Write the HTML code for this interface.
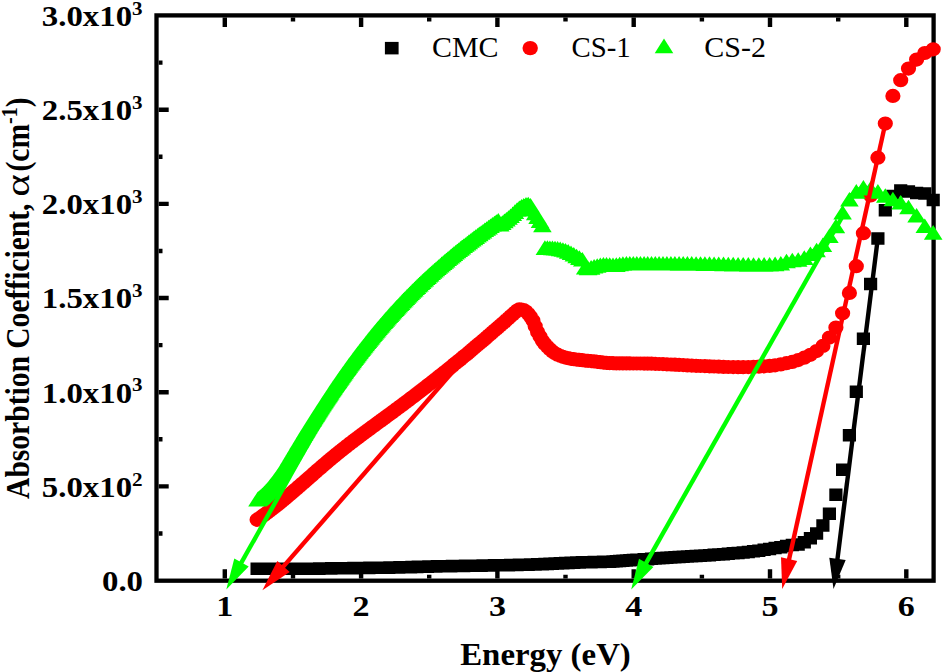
<!DOCTYPE html>
<html><head><meta charset="utf-8"><style>
html,body{margin:0;padding:0;background:#fff;width:943px;height:672px;overflow:hidden}
svg{display:block}
</style></head><body>
<svg width="943" height="672" viewBox="0 0 943 672">
<rect width="943" height="672" fill="#fff"/>
<rect x="156.5" y="15.4" width="777.1" height="565.3" fill="none" stroke="#000" stroke-width="4.3"/>
<path stroke="#000" stroke-width="4.4" fill="none" d="M224.8 578.6v-9.3M224.8 17.6v9.3M293 578.6v-3.8M293 17.6v3.8M361.1 578.6v-9.3M361.1 17.6v9.3M429.2 578.6v-3.8M429.2 17.6v3.8M497.4 578.6v-9.3M497.4 17.6v9.3M565.5 578.6v-3.8M565.5 17.6v3.8M633.7 578.6v-9.3M633.7 17.6v9.3M701.9 578.6v-3.8M701.9 17.6v3.8M770 578.6v-9.3M770 17.6v9.3M838.2 578.6v-3.8M838.2 17.6v3.8M906.3 578.6v-9.3M906.3 17.6v9.3M158.7 533.5h3.8M158.7 486.4h10M158.7 439.3h3.8M158.7 392.2h10M158.7 345.1h3.8M158.7 298h10M158.7 251h3.8M158.7 203.9h10M158.7 156.8h3.8M158.7 109.7h10M158.7 62.6h3.8"/>
<path fill="#000" d="M926.6 193.7h13.2v12.5h-13.2zM918.2 187.2h13.2v12.5h-13.2zM910 186.8h13.2v12.5h-13.2zM901.9 185.2h13.2v12.5h-13.2zM894.1 184.2h13.2v12.5h-13.2zM886.3 189.8h13.2v12.5h-13.2zM878.7 203.9h13.2v12.5h-13.2zM871.3 232.2h13.2v12.5h-13.2zM864 277.8h13.2v12.5h-13.2zM856.8 332.6h13.2v12.5h-13.2zM849.7 385.4h13.2v12.5h-13.2zM842.8 429.1h13.2v12.5h-13.2zM836 463.4h13.2v12.5h-13.2zM829.3 488.6h13.2v12.5h-13.2zM822.8 507.4h13.2v12.5h-13.2zM816.3 519.2h13.2v12.5h-13.2zM810 527.2h13.2v12.5h-13.2zM803.8 532h13.2v12.5h-13.2zM797.7 536h13.2v12.5h-13.2zM791.6 538.2h13.2v12.5h-13.2zM785.7 538.7h13.2v12.5h-13.2zM779.9 539.7h13.2v12.5h-13.2zM774.2 540.9h13.2v12.5h-13.2zM768.5 541.8h13.2v12.5h-13.2zM763 542.7h13.2v12.5h-13.2zM757.5 543.6h13.2v12.5h-13.2zM752.2 544.4h13.2v12.5h-13.2zM746.9 545.1h13.2v12.5h-13.2zM741.7 545.8h13.2v12.5h-13.2zM736.6 546.3h13.2v12.5h-13.2zM731.5 546.7h13.2v12.5h-13.2zM726.6 547.1h13.2v12.5h-13.2zM721.7 547.5h13.2v12.5h-13.2zM716.9 547.9h13.2v12.5h-13.2zM712.1 548.2h13.2v12.5h-13.2zM707.5 548.5h13.2v12.5h-13.2zM702.9 548.9h13.2v12.5h-13.2zM698.3 549.2h13.2v12.5h-13.2zM693.9 549.4h13.2v12.5h-13.2zM689.5 549.7h13.2v12.5h-13.2zM685.1 550h13.2v12.5h-13.2zM680.8 550.2h13.2v12.5h-13.2zM676.6 550.5h13.2v12.5h-13.2zM672.5 550.8h13.2v12.5h-13.2zM668.3 551h13.2v12.5h-13.2zM664.3 551.3h13.2v12.5h-13.2zM660.3 551.6h13.2v12.5h-13.2zM656.4 551.8h13.2v12.5h-13.2zM652.5 552.1h13.2v12.5h-13.2zM648.7 552.3h13.2v12.5h-13.2zM644.9 552.6h13.2v12.5h-13.2zM641.1 552.9h13.2v12.5h-13.2zM637.5 553.1h13.2v12.5h-13.2zM633.8 553.4h13.2v12.5h-13.2zM630.2 553.6h13.2v12.5h-13.2zM626.7 553.8h13.2v12.5h-13.2zM623.2 554.1h13.2v12.5h-13.2zM619.8 554.3h13.2v12.5h-13.2zM616.3 554.6h13.2v12.5h-13.2zM613 554.8h13.2v12.5h-13.2zM609.7 555.1h13.2v12.5h-13.2zM606.4 555.2h13.2v12.5h-13.2zM603.1 555.4h13.2v12.5h-13.2zM599.9 555.5h13.2v12.5h-13.2zM596.8 555.6h13.2v12.5h-13.2zM593.7 555.7h13.2v12.5h-13.2zM590.6 555.8h13.2v12.5h-13.2zM587.5 555.8h13.2v12.5h-13.2zM584.5 555.9h13.2v12.5h-13.2zM581.5 556h13.2v12.5h-13.2zM578.6 556h13.2v12.5h-13.2zM575.7 556.1h13.2v12.5h-13.2zM572.8 556.2h13.2v12.5h-13.2zM570 556.3h13.2v12.5h-13.2zM567.2 556.4h13.2v12.5h-13.2zM564.4 556.6h13.2v12.5h-13.2zM561.6 556.7h13.2v12.5h-13.2zM558.9 556.8h13.2v12.5h-13.2zM556.3 556.9h13.2v12.5h-13.2zM553.6 557.1h13.2v12.5h-13.2zM551 557.2h13.2v12.5h-13.2zM548.4 557.3h13.2v12.5h-13.2zM545.8 557.5h13.2v12.5h-13.2zM543.3 557.6h13.2v12.5h-13.2zM540.8 557.7h13.2v12.5h-13.2zM538.3 557.8h13.2v12.5h-13.2zM535.8 557.9h13.2v12.5h-13.2zM533.4 558h13.2v12.5h-13.2zM531 558.1h13.2v12.5h-13.2zM528.6 558.2h13.2v12.5h-13.2zM526.3 558.3h13.2v12.5h-13.2zM523.9 558.3h13.2v12.5h-13.2zM521.6 558.4h13.2v12.5h-13.2zM519.4 558.5h13.2v12.5h-13.2zM517.1 558.5h13.2v12.5h-13.2zM514.9 558.6h13.2v12.5h-13.2zM512.7 558.6h13.2v12.5h-13.2zM510.5 558.7h13.2v12.5h-13.2zM508.3 558.7h13.2v12.5h-13.2zM506.2 558.8h13.2v12.5h-13.2zM504 558.8h13.2v12.5h-13.2zM501.9 558.9h13.2v12.5h-13.2zM499.8 558.9h13.2v12.5h-13.2zM497.8 558.9h13.2v12.5h-13.2zM495.7 559h13.2v12.5h-13.2zM493.7 559h13.2v12.5h-13.2zM491.7 559.1h13.2v12.5h-13.2zM489.7 559.1h13.2v12.5h-13.2zM487.8 559.1h13.2v12.5h-13.2zM485.8 559.2h13.2v12.5h-13.2zM483.9 559.2h13.2v12.5h-13.2zM482 559.2h13.2v12.5h-13.2zM480.1 559.3h13.2v12.5h-13.2zM478.2 559.3h13.2v12.5h-13.2zM476.4 559.3h13.2v12.5h-13.2zM474.6 559.4h13.2v12.5h-13.2zM472.7 559.4h13.2v12.5h-13.2zM470.9 559.4h13.2v12.5h-13.2zM469.1 559.5h13.2v12.5h-13.2zM467.4 559.5h13.2v12.5h-13.2zM465.6 559.5h13.2v12.5h-13.2zM463.9 559.6h13.2v12.5h-13.2zM462.2 559.6h13.2v12.5h-13.2zM460.5 559.6h13.2v12.5h-13.2zM458.8 559.6h13.2v12.5h-13.2zM457.1 559.7h13.2v12.5h-13.2zM455.4 559.7h13.2v12.5h-13.2zM453.8 559.7h13.2v12.5h-13.2zM452.1 559.7h13.2v12.5h-13.2zM450.5 559.8h13.2v12.5h-13.2zM448.9 559.8h13.2v12.5h-13.2zM447.3 559.8h13.2v12.5h-13.2zM445.8 559.8h13.2v12.5h-13.2zM444.2 559.9h13.2v12.5h-13.2zM442.6 559.9h13.2v12.5h-13.2zM441.1 559.9h13.2v12.5h-13.2zM439.6 559.9h13.2v12.5h-13.2zM438.1 560h13.2v12.5h-13.2zM436.6 560h13.2v12.5h-13.2zM435.1 560h13.2v12.5h-13.2zM433.6 560.1h13.2v12.5h-13.2zM432.1 560.1h13.2v12.5h-13.2zM430.7 560.1h13.2v12.5h-13.2zM429.3 560.2h13.2v12.5h-13.2zM427.8 560.2h13.2v12.5h-13.2zM426.4 560.2h13.2v12.5h-13.2zM425 560.3h13.2v12.5h-13.2zM423.6 560.3h13.2v12.5h-13.2zM422.2 560.3h13.2v12.5h-13.2zM420.9 560.4h13.2v12.5h-13.2zM419.5 560.4h13.2v12.5h-13.2zM418.2 560.5h13.2v12.5h-13.2zM416.8 560.5h13.2v12.5h-13.2zM415.5 560.5h13.2v12.5h-13.2zM414.2 560.6h13.2v12.5h-13.2zM412.9 560.6h13.2v12.5h-13.2zM411.6 560.6h13.2v12.5h-13.2zM410.3 560.7h13.2v12.5h-13.2zM409 560.7h13.2v12.5h-13.2zM407.8 560.8h13.2v12.5h-13.2zM406.5 560.8h13.2v12.5h-13.2zM405.3 560.8h13.2v12.5h-13.2zM404 560.9h13.2v12.5h-13.2zM402.8 560.9h13.2v12.5h-13.2zM401.6 560.9h13.2v12.5h-13.2zM400.4 561h13.2v12.5h-13.2zM399.2 561h13.2v12.5h-13.2zM398 561h13.2v12.5h-13.2zM396.8 561.1h13.2v12.5h-13.2zM395.6 561.1h13.2v12.5h-13.2zM394.5 561.1h13.2v12.5h-13.2zM393.3 561.1h13.2v12.5h-13.2zM392.2 561.2h13.2v12.5h-13.2zM391 561.2h13.2v12.5h-13.2zM389.9 561.2h13.2v12.5h-13.2zM388.8 561.2h13.2v12.5h-13.2zM387.7 561.3h13.2v12.5h-13.2zM386.6 561.3h13.2v12.5h-13.2zM385.5 561.3h13.2v12.5h-13.2zM384.4 561.3h13.2v12.5h-13.2zM383.3 561.3h13.2v12.5h-13.2zM382.2 561.4h13.2v12.5h-13.2zM381.2 561.4h13.2v12.5h-13.2zM380.1 561.4h13.2v12.5h-13.2zM379.1 561.4h13.2v12.5h-13.2zM378 561.4h13.2v12.5h-13.2zM377 561.4h13.2v12.5h-13.2zM375.9 561.5h13.2v12.5h-13.2zM374.9 561.5h13.2v12.5h-13.2zM373.9 561.5h13.2v12.5h-13.2zM372.9 561.5h13.2v12.5h-13.2zM371.9 561.5h13.2v12.5h-13.2zM370.9 561.5h13.2v12.5h-13.2zM369.9 561.5h13.2v12.5h-13.2zM368.9 561.6h13.2v12.5h-13.2zM368 561.6h13.2v12.5h-13.2zM367 561.6h13.2v12.5h-13.2zM366 561.6h13.2v12.5h-13.2zM365.1 561.6h13.2v12.5h-13.2zM364.1 561.6h13.2v12.5h-13.2zM363.2 561.6h13.2v12.5h-13.2zM362.3 561.7h13.2v12.5h-13.2zM361.3 561.7h13.2v12.5h-13.2zM360.4 561.7h13.2v12.5h-13.2zM359.5 561.7h13.2v12.5h-13.2zM358.6 561.7h13.2v12.5h-13.2zM357.7 561.7h13.2v12.5h-13.2zM356.8 561.7h13.2v12.5h-13.2zM355.9 561.7h13.2v12.5h-13.2zM355 561.7h13.2v12.5h-13.2zM354.1 561.8h13.2v12.5h-13.2zM353.2 561.8h13.2v12.5h-13.2zM352.4 561.8h13.2v12.5h-13.2zM351.5 561.8h13.2v12.5h-13.2zM350.6 561.8h13.2v12.5h-13.2zM349.8 561.8h13.2v12.5h-13.2zM348.9 561.8h13.2v12.5h-13.2zM348.1 561.8h13.2v12.5h-13.2zM347.2 561.8h13.2v12.5h-13.2zM346.4 561.9h13.2v12.5h-13.2zM345.6 561.9h13.2v12.5h-13.2zM344.8 561.9h13.2v12.5h-13.2zM343.9 561.9h13.2v12.5h-13.2zM343.1 561.9h13.2v12.5h-13.2zM342.3 561.9h13.2v12.5h-13.2zM341.5 561.9h13.2v12.5h-13.2zM340.7 561.9h13.2v12.5h-13.2zM339.9 561.9h13.2v12.5h-13.2zM339.1 561.9h13.2v12.5h-13.2zM338.4 562h13.2v12.5h-13.2zM337.6 562h13.2v12.5h-13.2zM336.8 562h13.2v12.5h-13.2zM336 562h13.2v12.5h-13.2zM335.3 562h13.2v12.5h-13.2zM334.5 562h13.2v12.5h-13.2zM333.8 562h13.2v12.5h-13.2zM333 562h13.2v12.5h-13.2zM332.3 562h13.2v12.5h-13.2zM331.5 562h13.2v12.5h-13.2zM330.8 562.1h13.2v12.5h-13.2zM330 562.1h13.2v12.5h-13.2zM329.3 562.1h13.2v12.5h-13.2zM328.6 562.1h13.2v12.5h-13.2zM327.9 562.1h13.2v12.5h-13.2zM327.2 562.1h13.2v12.5h-13.2zM326.4 562.1h13.2v12.5h-13.2zM325.7 562.1h13.2v12.5h-13.2zM325 562.1h13.2v12.5h-13.2zM324.3 562.2h13.2v12.5h-13.2zM323.6 562.2h13.2v12.5h-13.2zM322.9 562.2h13.2v12.5h-13.2zM322.3 562.2h13.2v12.5h-13.2zM321.6 562.2h13.2v12.5h-13.2zM320.9 562.2h13.2v12.5h-13.2zM320.2 562.2h13.2v12.5h-13.2zM319.5 562.2h13.2v12.5h-13.2zM318.9 562.3h13.2v12.5h-13.2zM318.2 562.3h13.2v12.5h-13.2zM317.6 562.3h13.2v12.5h-13.2zM316.9 562.3h13.2v12.5h-13.2zM316.2 562.3h13.2v12.5h-13.2zM315.6 562.3h13.2v12.5h-13.2zM314.9 562.3h13.2v12.5h-13.2zM314.3 562.3h13.2v12.5h-13.2zM313.7 562.3h13.2v12.5h-13.2zM313 562.3h13.2v12.5h-13.2zM312.4 562.4h13.2v12.5h-13.2zM311.8 562.4h13.2v12.5h-13.2zM311.1 562.4h13.2v12.5h-13.2zM310.5 562.4h13.2v12.5h-13.2zM309.9 562.4h13.2v12.5h-13.2zM309.3 562.4h13.2v12.5h-13.2zM308.7 562.4h13.2v12.5h-13.2zM308.1 562.4h13.2v12.5h-13.2zM307.5 562.4h13.2v12.5h-13.2zM306.8 562.4h13.2v12.5h-13.2zM306.2 562.5h13.2v12.5h-13.2zM305.7 562.5h13.2v12.5h-13.2zM305.1 562.5h13.2v12.5h-13.2zM304.5 562.5h13.2v12.5h-13.2zM303.9 562.5h13.2v12.5h-13.2zM303.3 562.5h13.2v12.5h-13.2zM302.7 562.5h13.2v12.5h-13.2zM302.1 562.5h13.2v12.5h-13.2zM301.6 562.5h13.2v12.5h-13.2zM301 562.5h13.2v12.5h-13.2zM300.4 562.5h13.2v12.5h-13.2zM299.9 562.5h13.2v12.5h-13.2zM299.3 562.6h13.2v12.5h-13.2zM298.7 562.6h13.2v12.5h-13.2zM298.2 562.6h13.2v12.5h-13.2zM297.6 562.6h13.2v12.5h-13.2zM297.1 562.6h13.2v12.5h-13.2zM296.5 562.6h13.2v12.5h-13.2zM296 562.6h13.2v12.5h-13.2zM295.4 562.6h13.2v12.5h-13.2zM294.9 562.6h13.2v12.5h-13.2zM294.4 562.6h13.2v12.5h-13.2zM293.8 562.6h13.2v12.5h-13.2zM293.3 562.6h13.2v12.5h-13.2zM292.8 562.6h13.2v12.5h-13.2zM292.2 562.6h13.2v12.5h-13.2zM291.7 562.6h13.2v12.5h-13.2zM291.2 562.6h13.2v12.5h-13.2zM290.7 562.6h13.2v12.5h-13.2zM290.2 562.6h13.2v12.5h-13.2zM289.6 562.6h13.2v12.5h-13.2zM289.1 562.6h13.2v12.5h-13.2zM288.6 562.6h13.2v12.5h-13.2zM288.1 562.6h13.2v12.5h-13.2zM287.6 562.6h13.2v12.5h-13.2zM287.1 562.6h13.2v12.5h-13.2zM286.6 562.6h13.2v12.5h-13.2zM286.1 562.6h13.2v12.5h-13.2zM285.6 562.6h13.2v12.5h-13.2zM285.1 562.6h13.2v12.5h-13.2zM284.6 562.6h13.2v12.5h-13.2zM284.2 562.6h13.2v12.5h-13.2zM283.7 562.6h13.2v12.5h-13.2zM283.2 562.6h13.2v12.5h-13.2zM282.7 562.6h13.2v12.5h-13.2zM282.2 562.6h13.2v12.5h-13.2zM281.8 562.6h13.2v12.5h-13.2zM281.3 562.6h13.2v12.5h-13.2zM280.8 562.6h13.2v12.5h-13.2zM280.3 562.6h13.2v12.5h-13.2zM279.9 562.6h13.2v12.5h-13.2zM279.4 562.6h13.2v12.5h-13.2zM278.9 562.6h13.2v12.5h-13.2zM278.5 562.6h13.2v12.5h-13.2zM278 562.6h13.2v12.5h-13.2zM277.6 562.6h13.2v12.5h-13.2zM277.1 562.6h13.2v12.5h-13.2zM276.7 562.6h13.2v12.5h-13.2zM276.2 562.6h13.2v12.5h-13.2zM275.8 562.6h13.2v12.5h-13.2zM275.3 562.6h13.2v12.5h-13.2zM274.9 562.6h13.2v12.5h-13.2zM274.4 562.6h13.2v12.5h-13.2zM274 562.6h13.2v12.5h-13.2zM273.6 562.6h13.2v12.5h-13.2zM273.1 562.6h13.2v12.5h-13.2zM272.7 562.6h13.2v12.5h-13.2zM272.3 562.6h13.2v12.5h-13.2zM271.8 562.6h13.2v12.5h-13.2zM271.4 562.6h13.2v12.5h-13.2zM271 562.6h13.2v12.5h-13.2zM270.6 562.6h13.2v12.5h-13.2zM270.1 562.6h13.2v12.5h-13.2zM269.7 562.6h13.2v12.5h-13.2zM269.3 562.6h13.2v12.5h-13.2zM268.9 562.6h13.2v12.5h-13.2zM268.5 562.6h13.2v12.5h-13.2zM268 562.6h13.2v12.5h-13.2zM267.6 562.6h13.2v12.5h-13.2zM267.2 562.6h13.2v12.5h-13.2zM266.8 562.6h13.2v12.5h-13.2zM266.4 562.6h13.2v12.5h-13.2zM266 562.6h13.2v12.5h-13.2zM265.6 562.6h13.2v12.5h-13.2zM265.2 562.6h13.2v12.5h-13.2zM264.8 562.6h13.2v12.5h-13.2zM264.4 562.6h13.2v12.5h-13.2zM264 562.6h13.2v12.5h-13.2zM263.6 562.6h13.2v12.5h-13.2zM263.2 562.6h13.2v12.5h-13.2zM262.8 562.6h13.2v12.5h-13.2zM262.5 562.6h13.2v12.5h-13.2zM262.1 562.6h13.2v12.5h-13.2zM261.7 562.6h13.2v12.5h-13.2zM261.3 562.6h13.2v12.5h-13.2zM260.9 562.6h13.2v12.5h-13.2zM260.5 562.6h13.2v12.5h-13.2zM260.2 562.6h13.2v12.5h-13.2zM259.8 562.6h13.2v12.5h-13.2zM259.4 562.6h13.2v12.5h-13.2zM259 562.6h13.2v12.5h-13.2zM258.7 562.6h13.2v12.5h-13.2zM258.3 562.6h13.2v12.5h-13.2zM257.9 562.6h13.2v12.5h-13.2zM257.6 562.6h13.2v12.5h-13.2zM257.2 562.6h13.2v12.5h-13.2zM256.8 562.6h13.2v12.5h-13.2zM256.5 562.6h13.2v12.5h-13.2zM256.1 562.5h13.2v12.5h-13.2zM255.7 562.5h13.2v12.5h-13.2zM255.4 562.5h13.2v12.5h-13.2zM255 562.5h13.2v12.5h-13.2zM254.7 562.5h13.2v12.5h-13.2zM254.3 562.5h13.2v12.5h-13.2zM254 562.5h13.2v12.5h-13.2zM253.6 562.5h13.2v12.5h-13.2zM253.3 562.5h13.2v12.5h-13.2zM252.9 562.5h13.2v12.5h-13.2zM252.6 562.5h13.2v12.5h-13.2zM252.2 562.5h13.2v12.5h-13.2zM251.9 562.5h13.2v12.5h-13.2zM251.5 562.5h13.2v12.5h-13.2zM251.2 562.5h13.2v12.5h-13.2zM250.9 562.5h13.2v12.5h-13.2zM250.5 562.5h13.2v12.5h-13.2z"/>
<path fill="#f00" d="M509.5 310.5a7.6 7.1 0 1 0 15.2 0a7.6 7.1 0 1 0 -15.2 0zM507.3 312.5a7.6 7.1 0 1 0 15.2 0a7.6 7.1 0 1 0 -15.2 0zM505.2 314.4a7.6 7.1 0 1 0 15.2 0a7.6 7.1 0 1 0 -15.2 0zM503 316.3a7.6 7.1 0 1 0 15.2 0a7.6 7.1 0 1 0 -15.2 0zM500.9 318.2a7.6 7.1 0 1 0 15.2 0a7.6 7.1 0 1 0 -15.2 0zM498.8 320a7.6 7.1 0 1 0 15.2 0a7.6 7.1 0 1 0 -15.2 0zM496.8 321.9a7.6 7.1 0 1 0 15.2 0a7.6 7.1 0 1 0 -15.2 0zM494.7 323.7a7.6 7.1 0 1 0 15.2 0a7.6 7.1 0 1 0 -15.2 0zM492.7 325.4a7.6 7.1 0 1 0 15.2 0a7.6 7.1 0 1 0 -15.2 0zM490.7 327.2a7.6 7.1 0 1 0 15.2 0a7.6 7.1 0 1 0 -15.2 0zM488.7 328.9a7.6 7.1 0 1 0 15.2 0a7.6 7.1 0 1 0 -15.2 0zM486.8 330.6a7.6 7.1 0 1 0 15.2 0a7.6 7.1 0 1 0 -15.2 0zM484.8 332.3a7.6 7.1 0 1 0 15.2 0a7.6 7.1 0 1 0 -15.2 0zM482.9 334a7.6 7.1 0 1 0 15.2 0a7.6 7.1 0 1 0 -15.2 0zM481 335.6a7.6 7.1 0 1 0 15.2 0a7.6 7.1 0 1 0 -15.2 0zM479.1 337.3a7.6 7.1 0 1 0 15.2 0a7.6 7.1 0 1 0 -15.2 0zM477.2 338.9a7.6 7.1 0 1 0 15.2 0a7.6 7.1 0 1 0 -15.2 0zM475.4 340.4a7.6 7.1 0 1 0 15.2 0a7.6 7.1 0 1 0 -15.2 0zM473.6 342a7.6 7.1 0 1 0 15.2 0a7.6 7.1 0 1 0 -15.2 0zM471.7 343.6a7.6 7.1 0 1 0 15.2 0a7.6 7.1 0 1 0 -15.2 0zM469.9 345.1a7.6 7.1 0 1 0 15.2 0a7.6 7.1 0 1 0 -15.2 0zM468.1 346.6a7.6 7.1 0 1 0 15.2 0a7.6 7.1 0 1 0 -15.2 0zM466.4 348.1a7.6 7.1 0 1 0 15.2 0a7.6 7.1 0 1 0 -15.2 0zM464.6 349.5a7.6 7.1 0 1 0 15.2 0a7.6 7.1 0 1 0 -15.2 0zM462.9 351a7.6 7.1 0 1 0 15.2 0a7.6 7.1 0 1 0 -15.2 0zM461.2 352.4a7.6 7.1 0 1 0 15.2 0a7.6 7.1 0 1 0 -15.2 0zM459.5 353.9a7.6 7.1 0 1 0 15.2 0a7.6 7.1 0 1 0 -15.2 0zM457.8 355.3a7.6 7.1 0 1 0 15.2 0a7.6 7.1 0 1 0 -15.2 0zM456.1 356.6a7.6 7.1 0 1 0 15.2 0a7.6 7.1 0 1 0 -15.2 0zM454.4 358a7.6 7.1 0 1 0 15.2 0a7.6 7.1 0 1 0 -15.2 0zM452.8 359.4a7.6 7.1 0 1 0 15.2 0a7.6 7.1 0 1 0 -15.2 0zM451.1 360.7a7.6 7.1 0 1 0 15.2 0a7.6 7.1 0 1 0 -15.2 0zM449.5 362a7.6 7.1 0 1 0 15.2 0a7.6 7.1 0 1 0 -15.2 0zM447.9 363.3a7.6 7.1 0 1 0 15.2 0a7.6 7.1 0 1 0 -15.2 0zM446.3 364.6a7.6 7.1 0 1 0 15.2 0a7.6 7.1 0 1 0 -15.2 0zM444.8 365.9a7.6 7.1 0 1 0 15.2 0a7.6 7.1 0 1 0 -15.2 0zM443.2 367.2a7.6 7.1 0 1 0 15.2 0a7.6 7.1 0 1 0 -15.2 0zM441.6 368.4a7.6 7.1 0 1 0 15.2 0a7.6 7.1 0 1 0 -15.2 0zM440.1 369.7a7.6 7.1 0 1 0 15.2 0a7.6 7.1 0 1 0 -15.2 0zM438.6 370.9a7.6 7.1 0 1 0 15.2 0a7.6 7.1 0 1 0 -15.2 0zM437.1 372.1a7.6 7.1 0 1 0 15.2 0a7.6 7.1 0 1 0 -15.2 0zM435.6 373.3a7.6 7.1 0 1 0 15.2 0a7.6 7.1 0 1 0 -15.2 0zM434.1 374.5a7.6 7.1 0 1 0 15.2 0a7.6 7.1 0 1 0 -15.2 0zM432.6 375.6a7.6 7.1 0 1 0 15.2 0a7.6 7.1 0 1 0 -15.2 0zM431.1 376.8a7.6 7.1 0 1 0 15.2 0a7.6 7.1 0 1 0 -15.2 0zM429.7 377.9a7.6 7.1 0 1 0 15.2 0a7.6 7.1 0 1 0 -15.2 0zM428.3 379.1a7.6 7.1 0 1 0 15.2 0a7.6 7.1 0 1 0 -15.2 0zM426.8 380.2a7.6 7.1 0 1 0 15.2 0a7.6 7.1 0 1 0 -15.2 0zM425.4 381.3a7.6 7.1 0 1 0 15.2 0a7.6 7.1 0 1 0 -15.2 0zM424 382.4a7.6 7.1 0 1 0 15.2 0a7.6 7.1 0 1 0 -15.2 0zM422.6 383.5a7.6 7.1 0 1 0 15.2 0a7.6 7.1 0 1 0 -15.2 0zM421.2 384.6a7.6 7.1 0 1 0 15.2 0a7.6 7.1 0 1 0 -15.2 0zM419.9 385.6a7.6 7.1 0 1 0 15.2 0a7.6 7.1 0 1 0 -15.2 0zM418.5 386.7a7.6 7.1 0 1 0 15.2 0a7.6 7.1 0 1 0 -15.2 0zM417.2 387.7a7.6 7.1 0 1 0 15.2 0a7.6 7.1 0 1 0 -15.2 0zM415.8 388.8a7.6 7.1 0 1 0 15.2 0a7.6 7.1 0 1 0 -15.2 0zM414.5 389.8a7.6 7.1 0 1 0 15.2 0a7.6 7.1 0 1 0 -15.2 0zM413.2 390.8a7.6 7.1 0 1 0 15.2 0a7.6 7.1 0 1 0 -15.2 0zM411.9 391.8a7.6 7.1 0 1 0 15.2 0a7.6 7.1 0 1 0 -15.2 0zM410.6 392.8a7.6 7.1 0 1 0 15.2 0a7.6 7.1 0 1 0 -15.2 0zM409.3 393.8a7.6 7.1 0 1 0 15.2 0a7.6 7.1 0 1 0 -15.2 0zM408 394.8a7.6 7.1 0 1 0 15.2 0a7.6 7.1 0 1 0 -15.2 0zM406.8 395.7a7.6 7.1 0 1 0 15.2 0a7.6 7.1 0 1 0 -15.2 0zM405.5 396.7a7.6 7.1 0 1 0 15.2 0a7.6 7.1 0 1 0 -15.2 0zM404.3 397.6a7.6 7.1 0 1 0 15.2 0a7.6 7.1 0 1 0 -15.2 0zM403 398.6a7.6 7.1 0 1 0 15.2 0a7.6 7.1 0 1 0 -15.2 0zM401.8 399.5a7.6 7.1 0 1 0 15.2 0a7.6 7.1 0 1 0 -15.2 0zM400.6 400.4a7.6 7.1 0 1 0 15.2 0a7.6 7.1 0 1 0 -15.2 0zM399.4 401.3a7.6 7.1 0 1 0 15.2 0a7.6 7.1 0 1 0 -15.2 0zM398.2 402.2a7.6 7.1 0 1 0 15.2 0a7.6 7.1 0 1 0 -15.2 0zM397 403.1a7.6 7.1 0 1 0 15.2 0a7.6 7.1 0 1 0 -15.2 0zM395.8 404a7.6 7.1 0 1 0 15.2 0a7.6 7.1 0 1 0 -15.2 0zM394.6 404.9a7.6 7.1 0 1 0 15.2 0a7.6 7.1 0 1 0 -15.2 0zM393.5 405.7a7.6 7.1 0 1 0 15.2 0a7.6 7.1 0 1 0 -15.2 0zM392.3 406.6a7.6 7.1 0 1 0 15.2 0a7.6 7.1 0 1 0 -15.2 0zM391.2 407.4a7.6 7.1 0 1 0 15.2 0a7.6 7.1 0 1 0 -15.2 0zM390 408.3a7.6 7.1 0 1 0 15.2 0a7.6 7.1 0 1 0 -15.2 0zM388.9 409.1a7.6 7.1 0 1 0 15.2 0a7.6 7.1 0 1 0 -15.2 0zM387.8 410a7.6 7.1 0 1 0 15.2 0a7.6 7.1 0 1 0 -15.2 0zM386.7 410.8a7.6 7.1 0 1 0 15.2 0a7.6 7.1 0 1 0 -15.2 0zM385.6 411.6a7.6 7.1 0 1 0 15.2 0a7.6 7.1 0 1 0 -15.2 0zM384.5 412.4a7.6 7.1 0 1 0 15.2 0a7.6 7.1 0 1 0 -15.2 0zM383.4 413.2a7.6 7.1 0 1 0 15.2 0a7.6 7.1 0 1 0 -15.2 0zM382.3 414a7.6 7.1 0 1 0 15.2 0a7.6 7.1 0 1 0 -15.2 0zM381.2 414.8a7.6 7.1 0 1 0 15.2 0a7.6 7.1 0 1 0 -15.2 0zM380.2 415.6a7.6 7.1 0 1 0 15.2 0a7.6 7.1 0 1 0 -15.2 0zM379.1 416.3a7.6 7.1 0 1 0 15.2 0a7.6 7.1 0 1 0 -15.2 0zM378.1 417.1a7.6 7.1 0 1 0 15.2 0a7.6 7.1 0 1 0 -15.2 0zM377 417.9a7.6 7.1 0 1 0 15.2 0a7.6 7.1 0 1 0 -15.2 0zM376 418.6a7.6 7.1 0 1 0 15.2 0a7.6 7.1 0 1 0 -15.2 0zM374.9 419.4a7.6 7.1 0 1 0 15.2 0a7.6 7.1 0 1 0 -15.2 0zM373.9 420.1a7.6 7.1 0 1 0 15.2 0a7.6 7.1 0 1 0 -15.2 0zM372.9 420.9a7.6 7.1 0 1 0 15.2 0a7.6 7.1 0 1 0 -15.2 0zM371.9 421.6a7.6 7.1 0 1 0 15.2 0a7.6 7.1 0 1 0 -15.2 0zM370.9 422.3a7.6 7.1 0 1 0 15.2 0a7.6 7.1 0 1 0 -15.2 0zM369.9 423.1a7.6 7.1 0 1 0 15.2 0a7.6 7.1 0 1 0 -15.2 0zM368.9 423.8a7.6 7.1 0 1 0 15.2 0a7.6 7.1 0 1 0 -15.2 0zM367.9 424.5a7.6 7.1 0 1 0 15.2 0a7.6 7.1 0 1 0 -15.2 0zM367 425.2a7.6 7.1 0 1 0 15.2 0a7.6 7.1 0 1 0 -15.2 0zM366 425.9a7.6 7.1 0 1 0 15.2 0a7.6 7.1 0 1 0 -15.2 0zM365 426.6a7.6 7.1 0 1 0 15.2 0a7.6 7.1 0 1 0 -15.2 0zM364.1 427.3a7.6 7.1 0 1 0 15.2 0a7.6 7.1 0 1 0 -15.2 0zM363.1 428a7.6 7.1 0 1 0 15.2 0a7.6 7.1 0 1 0 -15.2 0zM362.2 428.7a7.6 7.1 0 1 0 15.2 0a7.6 7.1 0 1 0 -15.2 0zM361.3 429.4a7.6 7.1 0 1 0 15.2 0a7.6 7.1 0 1 0 -15.2 0zM360.3 430.1a7.6 7.1 0 1 0 15.2 0a7.6 7.1 0 1 0 -15.2 0zM359.4 430.8a7.6 7.1 0 1 0 15.2 0a7.6 7.1 0 1 0 -15.2 0zM358.5 431.4a7.6 7.1 0 1 0 15.2 0a7.6 7.1 0 1 0 -15.2 0zM357.6 432.1a7.6 7.1 0 1 0 15.2 0a7.6 7.1 0 1 0 -15.2 0zM356.7 432.8a7.6 7.1 0 1 0 15.2 0a7.6 7.1 0 1 0 -15.2 0zM355.8 433.4a7.6 7.1 0 1 0 15.2 0a7.6 7.1 0 1 0 -15.2 0zM354.9 434.1a7.6 7.1 0 1 0 15.2 0a7.6 7.1 0 1 0 -15.2 0zM354 434.8a7.6 7.1 0 1 0 15.2 0a7.6 7.1 0 1 0 -15.2 0zM353.1 435.4a7.6 7.1 0 1 0 15.2 0a7.6 7.1 0 1 0 -15.2 0zM352.2 436.1a7.6 7.1 0 1 0 15.2 0a7.6 7.1 0 1 0 -15.2 0zM351.4 436.7a7.6 7.1 0 1 0 15.2 0a7.6 7.1 0 1 0 -15.2 0zM350.5 437.4a7.6 7.1 0 1 0 15.2 0a7.6 7.1 0 1 0 -15.2 0zM349.6 438a7.6 7.1 0 1 0 15.2 0a7.6 7.1 0 1 0 -15.2 0zM348.8 438.7a7.6 7.1 0 1 0 15.2 0a7.6 7.1 0 1 0 -15.2 0zM347.9 439.3a7.6 7.1 0 1 0 15.2 0a7.6 7.1 0 1 0 -15.2 0zM347.1 440a7.6 7.1 0 1 0 15.2 0a7.6 7.1 0 1 0 -15.2 0zM346.2 440.6a7.6 7.1 0 1 0 15.2 0a7.6 7.1 0 1 0 -15.2 0zM345.4 441.2a7.6 7.1 0 1 0 15.2 0a7.6 7.1 0 1 0 -15.2 0zM344.6 441.9a7.6 7.1 0 1 0 15.2 0a7.6 7.1 0 1 0 -15.2 0zM343.8 442.5a7.6 7.1 0 1 0 15.2 0a7.6 7.1 0 1 0 -15.2 0zM342.9 443.1a7.6 7.1 0 1 0 15.2 0a7.6 7.1 0 1 0 -15.2 0zM342.1 443.8a7.6 7.1 0 1 0 15.2 0a7.6 7.1 0 1 0 -15.2 0zM341.3 444.4a7.6 7.1 0 1 0 15.2 0a7.6 7.1 0 1 0 -15.2 0zM340.5 445a7.6 7.1 0 1 0 15.2 0a7.6 7.1 0 1 0 -15.2 0zM339.7 445.6a7.6 7.1 0 1 0 15.2 0a7.6 7.1 0 1 0 -15.2 0zM338.9 446.2a7.6 7.1 0 1 0 15.2 0a7.6 7.1 0 1 0 -15.2 0zM338.1 446.9a7.6 7.1 0 1 0 15.2 0a7.6 7.1 0 1 0 -15.2 0zM337.4 447.5a7.6 7.1 0 1 0 15.2 0a7.6 7.1 0 1 0 -15.2 0zM336.6 448.1a7.6 7.1 0 1 0 15.2 0a7.6 7.1 0 1 0 -15.2 0zM335.8 448.7a7.6 7.1 0 1 0 15.2 0a7.6 7.1 0 1 0 -15.2 0zM335 449.3a7.6 7.1 0 1 0 15.2 0a7.6 7.1 0 1 0 -15.2 0zM334.3 449.9a7.6 7.1 0 1 0 15.2 0a7.6 7.1 0 1 0 -15.2 0zM333.5 450.5a7.6 7.1 0 1 0 15.2 0a7.6 7.1 0 1 0 -15.2 0zM332.8 451.1a7.6 7.1 0 1 0 15.2 0a7.6 7.1 0 1 0 -15.2 0zM332 451.7a7.6 7.1 0 1 0 15.2 0a7.6 7.1 0 1 0 -15.2 0zM331.3 452.3a7.6 7.1 0 1 0 15.2 0a7.6 7.1 0 1 0 -15.2 0zM330.5 452.9a7.6 7.1 0 1 0 15.2 0a7.6 7.1 0 1 0 -15.2 0zM329.8 453.5a7.6 7.1 0 1 0 15.2 0a7.6 7.1 0 1 0 -15.2 0zM329 454.1a7.6 7.1 0 1 0 15.2 0a7.6 7.1 0 1 0 -15.2 0zM328.3 454.7a7.6 7.1 0 1 0 15.2 0a7.6 7.1 0 1 0 -15.2 0zM327.6 455.3a7.6 7.1 0 1 0 15.2 0a7.6 7.1 0 1 0 -15.2 0zM326.9 455.9a7.6 7.1 0 1 0 15.2 0a7.6 7.1 0 1 0 -15.2 0zM326.2 456.5a7.6 7.1 0 1 0 15.2 0a7.6 7.1 0 1 0 -15.2 0zM325.4 457.1a7.6 7.1 0 1 0 15.2 0a7.6 7.1 0 1 0 -15.2 0zM324.7 457.7a7.6 7.1 0 1 0 15.2 0a7.6 7.1 0 1 0 -15.2 0zM324 458.2a7.6 7.1 0 1 0 15.2 0a7.6 7.1 0 1 0 -15.2 0zM323.3 458.8a7.6 7.1 0 1 0 15.2 0a7.6 7.1 0 1 0 -15.2 0zM322.6 459.4a7.6 7.1 0 1 0 15.2 0a7.6 7.1 0 1 0 -15.2 0zM321.9 460a7.6 7.1 0 1 0 15.2 0a7.6 7.1 0 1 0 -15.2 0zM321.3 460.6a7.6 7.1 0 1 0 15.2 0a7.6 7.1 0 1 0 -15.2 0zM320.6 461.1a7.6 7.1 0 1 0 15.2 0a7.6 7.1 0 1 0 -15.2 0zM319.9 461.7a7.6 7.1 0 1 0 15.2 0a7.6 7.1 0 1 0 -15.2 0zM319.2 462.3a7.6 7.1 0 1 0 15.2 0a7.6 7.1 0 1 0 -15.2 0zM318.5 462.9a7.6 7.1 0 1 0 15.2 0a7.6 7.1 0 1 0 -15.2 0zM317.9 463.4a7.6 7.1 0 1 0 15.2 0a7.6 7.1 0 1 0 -15.2 0zM317.2 464a7.6 7.1 0 1 0 15.2 0a7.6 7.1 0 1 0 -15.2 0zM316.6 464.6a7.6 7.1 0 1 0 15.2 0a7.6 7.1 0 1 0 -15.2 0zM315.9 465.1a7.6 7.1 0 1 0 15.2 0a7.6 7.1 0 1 0 -15.2 0zM315.2 465.7a7.6 7.1 0 1 0 15.2 0a7.6 7.1 0 1 0 -15.2 0zM314.6 466.3a7.6 7.1 0 1 0 15.2 0a7.6 7.1 0 1 0 -15.2 0zM313.9 466.8a7.6 7.1 0 1 0 15.2 0a7.6 7.1 0 1 0 -15.2 0zM313.3 467.4a7.6 7.1 0 1 0 15.2 0a7.6 7.1 0 1 0 -15.2 0zM312.7 467.9a7.6 7.1 0 1 0 15.2 0a7.6 7.1 0 1 0 -15.2 0zM312 468.5a7.6 7.1 0 1 0 15.2 0a7.6 7.1 0 1 0 -15.2 0zM311.4 469a7.6 7.1 0 1 0 15.2 0a7.6 7.1 0 1 0 -15.2 0zM310.8 469.6a7.6 7.1 0 1 0 15.2 0a7.6 7.1 0 1 0 -15.2 0zM310.1 470.1a7.6 7.1 0 1 0 15.2 0a7.6 7.1 0 1 0 -15.2 0zM309.5 470.6a7.6 7.1 0 1 0 15.2 0a7.6 7.1 0 1 0 -15.2 0zM308.9 471.2a7.6 7.1 0 1 0 15.2 0a7.6 7.1 0 1 0 -15.2 0zM308.3 471.7a7.6 7.1 0 1 0 15.2 0a7.6 7.1 0 1 0 -15.2 0zM307.7 472.3a7.6 7.1 0 1 0 15.2 0a7.6 7.1 0 1 0 -15.2 0zM307.1 472.8a7.6 7.1 0 1 0 15.2 0a7.6 7.1 0 1 0 -15.2 0zM306.5 473.3a7.6 7.1 0 1 0 15.2 0a7.6 7.1 0 1 0 -15.2 0zM305.8 473.8a7.6 7.1 0 1 0 15.2 0a7.6 7.1 0 1 0 -15.2 0zM305.2 474.4a7.6 7.1 0 1 0 15.2 0a7.6 7.1 0 1 0 -15.2 0zM304.7 474.9a7.6 7.1 0 1 0 15.2 0a7.6 7.1 0 1 0 -15.2 0zM304.1 475.4a7.6 7.1 0 1 0 15.2 0a7.6 7.1 0 1 0 -15.2 0zM303.5 475.9a7.6 7.1 0 1 0 15.2 0a7.6 7.1 0 1 0 -15.2 0zM302.9 476.4a7.6 7.1 0 1 0 15.2 0a7.6 7.1 0 1 0 -15.2 0zM302.3 476.9a7.6 7.1 0 1 0 15.2 0a7.6 7.1 0 1 0 -15.2 0zM301.7 477.5a7.6 7.1 0 1 0 15.2 0a7.6 7.1 0 1 0 -15.2 0zM301.1 478a7.6 7.1 0 1 0 15.2 0a7.6 7.1 0 1 0 -15.2 0zM300.6 478.5a7.6 7.1 0 1 0 15.2 0a7.6 7.1 0 1 0 -15.2 0zM300 479a7.6 7.1 0 1 0 15.2 0a7.6 7.1 0 1 0 -15.2 0zM299.4 479.5a7.6 7.1 0 1 0 15.2 0a7.6 7.1 0 1 0 -15.2 0zM298.9 480a7.6 7.1 0 1 0 15.2 0a7.6 7.1 0 1 0 -15.2 0zM298.3 480.4a7.6 7.1 0 1 0 15.2 0a7.6 7.1 0 1 0 -15.2 0zM297.7 480.9a7.6 7.1 0 1 0 15.2 0a7.6 7.1 0 1 0 -15.2 0zM297.2 481.4a7.6 7.1 0 1 0 15.2 0a7.6 7.1 0 1 0 -15.2 0zM296.6 481.9a7.6 7.1 0 1 0 15.2 0a7.6 7.1 0 1 0 -15.2 0zM296.1 482.4a7.6 7.1 0 1 0 15.2 0a7.6 7.1 0 1 0 -15.2 0zM295.5 482.9a7.6 7.1 0 1 0 15.2 0a7.6 7.1 0 1 0 -15.2 0zM295 483.3a7.6 7.1 0 1 0 15.2 0a7.6 7.1 0 1 0 -15.2 0zM294.4 483.8a7.6 7.1 0 1 0 15.2 0a7.6 7.1 0 1 0 -15.2 0zM293.9 484.3a7.6 7.1 0 1 0 15.2 0a7.6 7.1 0 1 0 -15.2 0zM293.4 484.8a7.6 7.1 0 1 0 15.2 0a7.6 7.1 0 1 0 -15.2 0zM292.8 485.2a7.6 7.1 0 1 0 15.2 0a7.6 7.1 0 1 0 -15.2 0zM292.3 485.7a7.6 7.1 0 1 0 15.2 0a7.6 7.1 0 1 0 -15.2 0zM291.8 486.2a7.6 7.1 0 1 0 15.2 0a7.6 7.1 0 1 0 -15.2 0zM291.2 486.6a7.6 7.1 0 1 0 15.2 0a7.6 7.1 0 1 0 -15.2 0zM290.7 487.1a7.6 7.1 0 1 0 15.2 0a7.6 7.1 0 1 0 -15.2 0zM290.2 487.5a7.6 7.1 0 1 0 15.2 0a7.6 7.1 0 1 0 -15.2 0zM289.7 488a7.6 7.1 0 1 0 15.2 0a7.6 7.1 0 1 0 -15.2 0zM289.2 488.4a7.6 7.1 0 1 0 15.2 0a7.6 7.1 0 1 0 -15.2 0zM288.6 488.9a7.6 7.1 0 1 0 15.2 0a7.6 7.1 0 1 0 -15.2 0zM288.1 489.3a7.6 7.1 0 1 0 15.2 0a7.6 7.1 0 1 0 -15.2 0zM287.6 489.7a7.6 7.1 0 1 0 15.2 0a7.6 7.1 0 1 0 -15.2 0zM287.1 490.2a7.6 7.1 0 1 0 15.2 0a7.6 7.1 0 1 0 -15.2 0zM286.6 490.6a7.6 7.1 0 1 0 15.2 0a7.6 7.1 0 1 0 -15.2 0zM286.1 491a7.6 7.1 0 1 0 15.2 0a7.6 7.1 0 1 0 -15.2 0zM285.6 491.5a7.6 7.1 0 1 0 15.2 0a7.6 7.1 0 1 0 -15.2 0zM285.1 491.9a7.6 7.1 0 1 0 15.2 0a7.6 7.1 0 1 0 -15.2 0zM284.6 492.3a7.6 7.1 0 1 0 15.2 0a7.6 7.1 0 1 0 -15.2 0zM284.1 492.7a7.6 7.1 0 1 0 15.2 0a7.6 7.1 0 1 0 -15.2 0zM283.6 493.2a7.6 7.1 0 1 0 15.2 0a7.6 7.1 0 1 0 -15.2 0zM283.2 493.6a7.6 7.1 0 1 0 15.2 0a7.6 7.1 0 1 0 -15.2 0zM282.7 494a7.6 7.1 0 1 0 15.2 0a7.6 7.1 0 1 0 -15.2 0zM282.2 494.4a7.6 7.1 0 1 0 15.2 0a7.6 7.1 0 1 0 -15.2 0zM281.7 494.8a7.6 7.1 0 1 0 15.2 0a7.6 7.1 0 1 0 -15.2 0zM281.2 495.2a7.6 7.1 0 1 0 15.2 0a7.6 7.1 0 1 0 -15.2 0zM280.8 495.6a7.6 7.1 0 1 0 15.2 0a7.6 7.1 0 1 0 -15.2 0zM280.3 496a7.6 7.1 0 1 0 15.2 0a7.6 7.1 0 1 0 -15.2 0zM279.8 496.4a7.6 7.1 0 1 0 15.2 0a7.6 7.1 0 1 0 -15.2 0zM279.3 496.8a7.6 7.1 0 1 0 15.2 0a7.6 7.1 0 1 0 -15.2 0zM278.9 497.2a7.6 7.1 0 1 0 15.2 0a7.6 7.1 0 1 0 -15.2 0zM278.4 497.6a7.6 7.1 0 1 0 15.2 0a7.6 7.1 0 1 0 -15.2 0zM277.9 498a7.6 7.1 0 1 0 15.2 0a7.6 7.1 0 1 0 -15.2 0zM277.5 498.4a7.6 7.1 0 1 0 15.2 0a7.6 7.1 0 1 0 -15.2 0zM277 498.8a7.6 7.1 0 1 0 15.2 0a7.6 7.1 0 1 0 -15.2 0zM276.6 499.1a7.6 7.1 0 1 0 15.2 0a7.6 7.1 0 1 0 -15.2 0zM276.1 499.5a7.6 7.1 0 1 0 15.2 0a7.6 7.1 0 1 0 -15.2 0zM275.7 499.9a7.6 7.1 0 1 0 15.2 0a7.6 7.1 0 1 0 -15.2 0zM275.2 500.3a7.6 7.1 0 1 0 15.2 0a7.6 7.1 0 1 0 -15.2 0zM274.8 500.6a7.6 7.1 0 1 0 15.2 0a7.6 7.1 0 1 0 -15.2 0zM274.3 501a7.6 7.1 0 1 0 15.2 0a7.6 7.1 0 1 0 -15.2 0zM273.9 501.4a7.6 7.1 0 1 0 15.2 0a7.6 7.1 0 1 0 -15.2 0zM273.4 501.7a7.6 7.1 0 1 0 15.2 0a7.6 7.1 0 1 0 -15.2 0zM273 502.1a7.6 7.1 0 1 0 15.2 0a7.6 7.1 0 1 0 -15.2 0zM272.6 502.4a7.6 7.1 0 1 0 15.2 0a7.6 7.1 0 1 0 -15.2 0zM272.1 502.8a7.6 7.1 0 1 0 15.2 0a7.6 7.1 0 1 0 -15.2 0zM271.7 503.2a7.6 7.1 0 1 0 15.2 0a7.6 7.1 0 1 0 -15.2 0zM271.3 503.5a7.6 7.1 0 1 0 15.2 0a7.6 7.1 0 1 0 -15.2 0zM270.8 503.9a7.6 7.1 0 1 0 15.2 0a7.6 7.1 0 1 0 -15.2 0zM270.4 504.2a7.6 7.1 0 1 0 15.2 0a7.6 7.1 0 1 0 -15.2 0zM270 504.5a7.6 7.1 0 1 0 15.2 0a7.6 7.1 0 1 0 -15.2 0zM269.6 504.9a7.6 7.1 0 1 0 15.2 0a7.6 7.1 0 1 0 -15.2 0zM269.1 505.2a7.6 7.1 0 1 0 15.2 0a7.6 7.1 0 1 0 -15.2 0zM268.7 505.6a7.6 7.1 0 1 0 15.2 0a7.6 7.1 0 1 0 -15.2 0zM268.3 505.9a7.6 7.1 0 1 0 15.2 0a7.6 7.1 0 1 0 -15.2 0zM267.9 506.2a7.6 7.1 0 1 0 15.2 0a7.6 7.1 0 1 0 -15.2 0zM267.5 506.6a7.6 7.1 0 1 0 15.2 0a7.6 7.1 0 1 0 -15.2 0zM267 506.9a7.6 7.1 0 1 0 15.2 0a7.6 7.1 0 1 0 -15.2 0zM266.6 507.2a7.6 7.1 0 1 0 15.2 0a7.6 7.1 0 1 0 -15.2 0zM266.2 507.5a7.6 7.1 0 1 0 15.2 0a7.6 7.1 0 1 0 -15.2 0zM265.8 507.8a7.6 7.1 0 1 0 15.2 0a7.6 7.1 0 1 0 -15.2 0zM265.4 508.2a7.6 7.1 0 1 0 15.2 0a7.6 7.1 0 1 0 -15.2 0zM265 508.5a7.6 7.1 0 1 0 15.2 0a7.6 7.1 0 1 0 -15.2 0zM264.6 508.8a7.6 7.1 0 1 0 15.2 0a7.6 7.1 0 1 0 -15.2 0zM264.2 509.1a7.6 7.1 0 1 0 15.2 0a7.6 7.1 0 1 0 -15.2 0zM263.8 509.4a7.6 7.1 0 1 0 15.2 0a7.6 7.1 0 1 0 -15.2 0zM263.4 509.7a7.6 7.1 0 1 0 15.2 0a7.6 7.1 0 1 0 -15.2 0zM263 510a7.6 7.1 0 1 0 15.2 0a7.6 7.1 0 1 0 -15.2 0zM262.6 510.3a7.6 7.1 0 1 0 15.2 0a7.6 7.1 0 1 0 -15.2 0zM262.2 510.6a7.6 7.1 0 1 0 15.2 0a7.6 7.1 0 1 0 -15.2 0zM261.8 510.9a7.6 7.1 0 1 0 15.2 0a7.6 7.1 0 1 0 -15.2 0zM261.5 511.2a7.6 7.1 0 1 0 15.2 0a7.6 7.1 0 1 0 -15.2 0zM261.1 511.5a7.6 7.1 0 1 0 15.2 0a7.6 7.1 0 1 0 -15.2 0zM260.7 511.8a7.6 7.1 0 1 0 15.2 0a7.6 7.1 0 1 0 -15.2 0zM260.3 512.1a7.6 7.1 0 1 0 15.2 0a7.6 7.1 0 1 0 -15.2 0zM259.9 512.4a7.6 7.1 0 1 0 15.2 0a7.6 7.1 0 1 0 -15.2 0zM259.5 512.7a7.6 7.1 0 1 0 15.2 0a7.6 7.1 0 1 0 -15.2 0zM259.2 513a7.6 7.1 0 1 0 15.2 0a7.6 7.1 0 1 0 -15.2 0zM258.8 513.2a7.6 7.1 0 1 0 15.2 0a7.6 7.1 0 1 0 -15.2 0zM258.4 513.5a7.6 7.1 0 1 0 15.2 0a7.6 7.1 0 1 0 -15.2 0zM258 513.8a7.6 7.1 0 1 0 15.2 0a7.6 7.1 0 1 0 -15.2 0zM257.7 514.1a7.6 7.1 0 1 0 15.2 0a7.6 7.1 0 1 0 -15.2 0zM257.3 514.3a7.6 7.1 0 1 0 15.2 0a7.6 7.1 0 1 0 -15.2 0zM256.9 514.6a7.6 7.1 0 1 0 15.2 0a7.6 7.1 0 1 0 -15.2 0zM256.6 514.9a7.6 7.1 0 1 0 15.2 0a7.6 7.1 0 1 0 -15.2 0zM256.2 515.1a7.6 7.1 0 1 0 15.2 0a7.6 7.1 0 1 0 -15.2 0zM255.8 515.4a7.6 7.1 0 1 0 15.2 0a7.6 7.1 0 1 0 -15.2 0zM255.5 515.7a7.6 7.1 0 1 0 15.2 0a7.6 7.1 0 1 0 -15.2 0zM255.1 515.9a7.6 7.1 0 1 0 15.2 0a7.6 7.1 0 1 0 -15.2 0zM254.7 516.2a7.6 7.1 0 1 0 15.2 0a7.6 7.1 0 1 0 -15.2 0zM254.4 516.4a7.6 7.1 0 1 0 15.2 0a7.6 7.1 0 1 0 -15.2 0zM254 516.7a7.6 7.1 0 1 0 15.2 0a7.6 7.1 0 1 0 -15.2 0zM253.7 517a7.6 7.1 0 1 0 15.2 0a7.6 7.1 0 1 0 -15.2 0zM253.3 517.2a7.6 7.1 0 1 0 15.2 0a7.6 7.1 0 1 0 -15.2 0zM253 517.5a7.6 7.1 0 1 0 15.2 0a7.6 7.1 0 1 0 -15.2 0zM252.6 517.7a7.6 7.1 0 1 0 15.2 0a7.6 7.1 0 1 0 -15.2 0zM252.3 517.9a7.6 7.1 0 1 0 15.2 0a7.6 7.1 0 1 0 -15.2 0zM251.9 518.2a7.6 7.1 0 1 0 15.2 0a7.6 7.1 0 1 0 -15.2 0zM251.6 518.4a7.6 7.1 0 1 0 15.2 0a7.6 7.1 0 1 0 -15.2 0zM251.2 518.7a7.6 7.1 0 1 0 15.2 0a7.6 7.1 0 1 0 -15.2 0zM250.9 518.9a7.6 7.1 0 1 0 15.2 0a7.6 7.1 0 1 0 -15.2 0zM250.5 519.1a7.6 7.1 0 1 0 15.2 0a7.6 7.1 0 1 0 -15.2 0zM250.2 519.4a7.6 7.1 0 1 0 15.2 0a7.6 7.1 0 1 0 -15.2 0zM249.9 519.6a7.6 7.1 0 1 0 15.2 0a7.6 7.1 0 1 0 -15.2 0zM249.5 519.8a7.6 7.1 0 1 0 15.2 0a7.6 7.1 0 1 0 -15.2 0zM925.6 49.3a7.6 7.1 0 1 0 15.2 0a7.6 7.1 0 1 0 -15.2 0zM917.2 53a7.6 7.1 0 1 0 15.2 0a7.6 7.1 0 1 0 -15.2 0zM909 59.6a7.6 7.1 0 1 0 15.2 0a7.6 7.1 0 1 0 -15.2 0zM900.9 68.6a7.6 7.1 0 1 0 15.2 0a7.6 7.1 0 1 0 -15.2 0zM893.1 80.2a7.6 7.1 0 1 0 15.2 0a7.6 7.1 0 1 0 -15.2 0zM885.3 95.9a7.6 7.1 0 1 0 15.2 0a7.6 7.1 0 1 0 -15.2 0zM877.7 123.6a7.6 7.1 0 1 0 15.2 0a7.6 7.1 0 1 0 -15.2 0zM870.3 157.7a7.6 7.1 0 1 0 15.2 0a7.6 7.1 0 1 0 -15.2 0zM863 195.4a7.6 7.1 0 1 0 15.2 0a7.6 7.1 0 1 0 -15.2 0zM855.8 233.2a7.6 7.1 0 1 0 15.2 0a7.6 7.1 0 1 0 -15.2 0zM848.7 266.2a7.6 7.1 0 1 0 15.2 0a7.6 7.1 0 1 0 -15.2 0zM841.8 292.9a7.6 7.1 0 1 0 15.2 0a7.6 7.1 0 1 0 -15.2 0zM835 313.3a7.6 7.1 0 1 0 15.2 0a7.6 7.1 0 1 0 -15.2 0zM828.3 327.6a7.6 7.1 0 1 0 15.2 0a7.6 7.1 0 1 0 -15.2 0zM821.8 337.6a7.6 7.1 0 1 0 15.2 0a7.6 7.1 0 1 0 -15.2 0zM815.3 345.9a7.6 7.1 0 1 0 15.2 0a7.6 7.1 0 1 0 -15.2 0zM809 351.1a7.6 7.1 0 1 0 15.2 0a7.6 7.1 0 1 0 -15.2 0zM802.8 354.8a7.6 7.1 0 1 0 15.2 0a7.6 7.1 0 1 0 -15.2 0zM796.7 357.7a7.6 7.1 0 1 0 15.2 0a7.6 7.1 0 1 0 -15.2 0zM790.6 360.1a7.6 7.1 0 1 0 15.2 0a7.6 7.1 0 1 0 -15.2 0zM784.7 361.9a7.6 7.1 0 1 0 15.2 0a7.6 7.1 0 1 0 -15.2 0zM778.9 363.2a7.6 7.1 0 1 0 15.2 0a7.6 7.1 0 1 0 -15.2 0zM773.2 364.4a7.6 7.1 0 1 0 15.2 0a7.6 7.1 0 1 0 -15.2 0zM767.5 365.3a7.6 7.1 0 1 0 15.2 0a7.6 7.1 0 1 0 -15.2 0zM762 365.9a7.6 7.1 0 1 0 15.2 0a7.6 7.1 0 1 0 -15.2 0zM756.5 366.3a7.6 7.1 0 1 0 15.2 0a7.6 7.1 0 1 0 -15.2 0zM751.2 366.6a7.6 7.1 0 1 0 15.2 0a7.6 7.1 0 1 0 -15.2 0zM745.9 366.9a7.6 7.1 0 1 0 15.2 0a7.6 7.1 0 1 0 -15.2 0zM740.7 367.1a7.6 7.1 0 1 0 15.2 0a7.6 7.1 0 1 0 -15.2 0zM735.6 367.2a7.6 7.1 0 1 0 15.2 0a7.6 7.1 0 1 0 -15.2 0zM730.5 367.2a7.6 7.1 0 1 0 15.2 0a7.6 7.1 0 1 0 -15.2 0zM725.6 367.1a7.6 7.1 0 1 0 15.2 0a7.6 7.1 0 1 0 -15.2 0zM720.7 367a7.6 7.1 0 1 0 15.2 0a7.6 7.1 0 1 0 -15.2 0zM715.9 366.9a7.6 7.1 0 1 0 15.2 0a7.6 7.1 0 1 0 -15.2 0zM711.1 366.7a7.6 7.1 0 1 0 15.2 0a7.6 7.1 0 1 0 -15.2 0zM706.5 366.5a7.6 7.1 0 1 0 15.2 0a7.6 7.1 0 1 0 -15.2 0zM701.9 366.3a7.6 7.1 0 1 0 15.2 0a7.6 7.1 0 1 0 -15.2 0zM697.3 366.1a7.6 7.1 0 1 0 15.2 0a7.6 7.1 0 1 0 -15.2 0zM692.9 366a7.6 7.1 0 1 0 15.2 0a7.6 7.1 0 1 0 -15.2 0zM688.5 365.8a7.6 7.1 0 1 0 15.2 0a7.6 7.1 0 1 0 -15.2 0zM684.1 365.6a7.6 7.1 0 1 0 15.2 0a7.6 7.1 0 1 0 -15.2 0zM679.8 365.4a7.6 7.1 0 1 0 15.2 0a7.6 7.1 0 1 0 -15.2 0zM675.6 365.1a7.6 7.1 0 1 0 15.2 0a7.6 7.1 0 1 0 -15.2 0zM671.5 364.9a7.6 7.1 0 1 0 15.2 0a7.6 7.1 0 1 0 -15.2 0zM667.3 364.7a7.6 7.1 0 1 0 15.2 0a7.6 7.1 0 1 0 -15.2 0zM663.3 364.5a7.6 7.1 0 1 0 15.2 0a7.6 7.1 0 1 0 -15.2 0zM659.3 364.3a7.6 7.1 0 1 0 15.2 0a7.6 7.1 0 1 0 -15.2 0zM655.4 364.1a7.6 7.1 0 1 0 15.2 0a7.6 7.1 0 1 0 -15.2 0zM651.5 364a7.6 7.1 0 1 0 15.2 0a7.6 7.1 0 1 0 -15.2 0zM647.7 363.8a7.6 7.1 0 1 0 15.2 0a7.6 7.1 0 1 0 -15.2 0zM643.9 363.7a7.6 7.1 0 1 0 15.2 0a7.6 7.1 0 1 0 -15.2 0zM640.1 363.6a7.6 7.1 0 1 0 15.2 0a7.6 7.1 0 1 0 -15.2 0zM636.5 363.6a7.6 7.1 0 1 0 15.2 0a7.6 7.1 0 1 0 -15.2 0zM632.8 363.5a7.6 7.1 0 1 0 15.2 0a7.6 7.1 0 1 0 -15.2 0zM629.2 363.5a7.6 7.1 0 1 0 15.2 0a7.6 7.1 0 1 0 -15.2 0zM625.7 363.5a7.6 7.1 0 1 0 15.2 0a7.6 7.1 0 1 0 -15.2 0zM622.2 363.4a7.6 7.1 0 1 0 15.2 0a7.6 7.1 0 1 0 -15.2 0zM618.8 363.4a7.6 7.1 0 1 0 15.2 0a7.6 7.1 0 1 0 -15.2 0zM615.3 363.4a7.6 7.1 0 1 0 15.2 0a7.6 7.1 0 1 0 -15.2 0zM612 363.3a7.6 7.1 0 1 0 15.2 0a7.6 7.1 0 1 0 -15.2 0zM608.7 363.3a7.6 7.1 0 1 0 15.2 0a7.6 7.1 0 1 0 -15.2 0zM605.4 363.2a7.6 7.1 0 1 0 15.2 0a7.6 7.1 0 1 0 -15.2 0zM602.1 363.1a7.6 7.1 0 1 0 15.2 0a7.6 7.1 0 1 0 -15.2 0zM598.9 362.9a7.6 7.1 0 1 0 15.2 0a7.6 7.1 0 1 0 -15.2 0zM595.8 362.6a7.6 7.1 0 1 0 15.2 0a7.6 7.1 0 1 0 -15.2 0zM592.7 362.2a7.6 7.1 0 1 0 15.2 0a7.6 7.1 0 1 0 -15.2 0zM589.6 361.8a7.6 7.1 0 1 0 15.2 0a7.6 7.1 0 1 0 -15.2 0zM586.5 361.4a7.6 7.1 0 1 0 15.2 0a7.6 7.1 0 1 0 -15.2 0zM583.5 361.1a7.6 7.1 0 1 0 15.2 0a7.6 7.1 0 1 0 -15.2 0zM580.5 360.8a7.6 7.1 0 1 0 15.2 0a7.6 7.1 0 1 0 -15.2 0zM577.6 360.6a7.6 7.1 0 1 0 15.2 0a7.6 7.1 0 1 0 -15.2 0zM574.7 360.2a7.6 7.1 0 1 0 15.2 0a7.6 7.1 0 1 0 -15.2 0zM571.8 359.9a7.6 7.1 0 1 0 15.2 0a7.6 7.1 0 1 0 -15.2 0zM569 359.6a7.6 7.1 0 1 0 15.2 0a7.6 7.1 0 1 0 -15.2 0zM566.2 359.2a7.6 7.1 0 1 0 15.2 0a7.6 7.1 0 1 0 -15.2 0zM563.4 358.8a7.6 7.1 0 1 0 15.2 0a7.6 7.1 0 1 0 -15.2 0zM560.6 358.2a7.6 7.1 0 1 0 15.2 0a7.6 7.1 0 1 0 -15.2 0zM557.9 357.6a7.6 7.1 0 1 0 15.2 0a7.6 7.1 0 1 0 -15.2 0zM555.3 356.8a7.6 7.1 0 1 0 15.2 0a7.6 7.1 0 1 0 -15.2 0zM552.6 355.8a7.6 7.1 0 1 0 15.2 0a7.6 7.1 0 1 0 -15.2 0zM550 354.7a7.6 7.1 0 1 0 15.2 0a7.6 7.1 0 1 0 -15.2 0zM547.4 353.3a7.6 7.1 0 1 0 15.2 0a7.6 7.1 0 1 0 -15.2 0zM544.8 351.4a7.6 7.1 0 1 0 15.2 0a7.6 7.1 0 1 0 -15.2 0zM542.3 349.2a7.6 7.1 0 1 0 15.2 0a7.6 7.1 0 1 0 -15.2 0zM539.8 346.7a7.6 7.1 0 1 0 15.2 0a7.6 7.1 0 1 0 -15.2 0zM537.3 343.9a7.6 7.1 0 1 0 15.2 0a7.6 7.1 0 1 0 -15.2 0zM534.8 340.7a7.6 7.1 0 1 0 15.2 0a7.6 7.1 0 1 0 -15.2 0zM532.4 336.6a7.6 7.1 0 1 0 15.2 0a7.6 7.1 0 1 0 -15.2 0zM530 331.9a7.6 7.1 0 1 0 15.2 0a7.6 7.1 0 1 0 -15.2 0zM527.6 326.3a7.6 7.1 0 1 0 15.2 0a7.6 7.1 0 1 0 -15.2 0zM525.3 320.4a7.6 7.1 0 1 0 15.2 0a7.6 7.1 0 1 0 -15.2 0zM522.9 316.7a7.6 7.1 0 1 0 15.2 0a7.6 7.1 0 1 0 -15.2 0zM520.6 313.8a7.6 7.1 0 1 0 15.2 0a7.6 7.1 0 1 0 -15.2 0zM518.4 311.5a7.6 7.1 0 1 0 15.2 0a7.6 7.1 0 1 0 -15.2 0zM516.1 310a7.6 7.1 0 1 0 15.2 0a7.6 7.1 0 1 0 -15.2 0zM513.9 309.5a7.6 7.1 0 1 0 15.2 0a7.6 7.1 0 1 0 -15.2 0zM511.7 309.3a7.6 7.1 0 1 0 15.2 0a7.6 7.1 0 1 0 -15.2 0z"/>
<path fill="#0f0" d="M498.3 212.9l9.3 14.6h-18.6zM496.3 214.3l9.3 14.6h-18.6zM494.4 215.7l9.3 14.6h-18.6zM492.4 217.1l9.3 14.6h-18.6zM490.5 218.4l9.3 14.6h-18.6zM488.6 219.8l9.3 14.6h-18.6zM486.7 221.2l9.3 14.6h-18.6zM484.8 222.5l9.3 14.6h-18.6zM483 223.9l9.3 14.6h-18.6zM481.2 225.2l9.3 14.6h-18.6zM479.3 226.6l9.3 14.6h-18.6zM477.5 227.9l9.3 14.6h-18.6zM475.7 229.3l9.3 14.6h-18.6zM474 230.6l9.3 14.6h-18.6zM472.2 231.9l9.3 14.6h-18.6zM470.5 233.2l9.3 14.6h-18.6zM468.8 234.6l9.3 14.6h-18.6zM467.1 235.9l9.3 14.6h-18.6zM465.4 237.2l9.3 14.6h-18.6zM463.7 238.5l9.3 14.6h-18.6zM462 239.8l9.3 14.6h-18.6zM460.4 241.1l9.3 14.6h-18.6zM458.7 242.4l9.3 14.6h-18.6zM457.1 243.7l9.3 14.6h-18.6zM455.5 245l9.3 14.6h-18.6zM453.9 246.3l9.3 14.6h-18.6zM452.4 247.6l9.3 14.6h-18.6zM450.8 248.9l9.3 14.6h-18.6zM449.2 250.2l9.3 14.6h-18.6zM447.7 251.5l9.3 14.6h-18.6zM446.2 252.8l9.3 14.6h-18.6zM444.7 254.1l9.3 14.6h-18.6zM443.2 255.3l9.3 14.6h-18.6zM441.7 256.6l9.3 14.6h-18.6zM440.2 257.9l9.3 14.6h-18.6zM438.7 259.2l9.3 14.6h-18.6zM437.3 260.4l9.3 14.6h-18.6zM435.9 261.7l9.3 14.6h-18.6zM434.4 263l9.3 14.6h-18.6zM433 264.2l9.3 14.6h-18.6zM431.6 265.5l9.3 14.6h-18.6zM430.2 266.8l9.3 14.6h-18.6zM428.9 268l9.3 14.6h-18.6zM427.5 269.3l9.3 14.6h-18.6zM426.1 270.5l9.3 14.6h-18.6zM424.8 271.8l9.3 14.6h-18.6zM423.4 273l9.3 14.6h-18.6zM422.1 274.3l9.3 14.6h-18.6zM420.8 275.5l9.3 14.6h-18.6zM419.5 276.8l9.3 14.6h-18.6zM418.2 278l9.3 14.6h-18.6zM416.9 279.3l9.3 14.6h-18.6zM415.6 280.5l9.3 14.6h-18.6zM414.4 281.8l9.3 14.6h-18.6zM413.1 283l9.3 14.6h-18.6zM411.9 284.2l9.3 14.6h-18.6zM410.6 285.5l9.3 14.6h-18.6zM409.4 286.7l9.3 14.6h-18.6zM408.2 287.9l9.3 14.6h-18.6zM407 289.1l9.3 14.6h-18.6zM405.8 290.4l9.3 14.6h-18.6zM404.6 291.6l9.3 14.6h-18.6zM403.4 292.8l9.3 14.6h-18.6zM402.2 294l9.3 14.6h-18.6zM401.1 295.3l9.3 14.6h-18.6zM399.9 296.5l9.3 14.6h-18.6zM398.8 297.7l9.3 14.6h-18.6zM397.6 298.9l9.3 14.6h-18.6zM396.5 300.1l9.3 14.6h-18.6zM395.4 301.3l9.3 14.6h-18.6zM394.3 302.5l9.3 14.6h-18.6zM393.2 303.7l9.3 14.6h-18.6zM392.1 304.9l9.3 14.6h-18.6zM391 306.1l9.3 14.6h-18.6zM389.9 307.3l9.3 14.6h-18.6zM388.8 308.5l9.3 14.6h-18.6zM387.8 309.7l9.3 14.6h-18.6zM386.7 310.9l9.3 14.6h-18.6zM385.7 312.1l9.3 14.6h-18.6zM384.6 313.3l9.3 14.6h-18.6zM383.6 314.5l9.3 14.6h-18.6zM382.5 315.7l9.3 14.6h-18.6zM381.5 316.9l9.3 14.6h-18.6zM380.5 318.1l9.3 14.6h-18.6zM379.5 319.2l9.3 14.6h-18.6zM378.5 320.4l9.3 14.6h-18.6zM377.5 321.6l9.3 14.6h-18.6zM376.5 322.8l9.3 14.6h-18.6zM375.5 323.9l9.3 14.6h-18.6zM374.6 325.1l9.3 14.6h-18.6zM373.6 326.3l9.3 14.6h-18.6zM372.6 327.5l9.3 14.6h-18.6zM371.7 328.6l9.3 14.6h-18.6zM370.7 329.8l9.3 14.6h-18.6zM369.8 330.9l9.3 14.6h-18.6zM368.9 332.1l9.3 14.6h-18.6zM367.9 333.3l9.3 14.6h-18.6zM367 334.4l9.3 14.6h-18.6zM366.1 335.6l9.3 14.6h-18.6zM365.2 336.7l9.3 14.6h-18.6zM364.3 337.9l9.3 14.6h-18.6zM363.4 339l9.3 14.6h-18.6zM362.5 340.2l9.3 14.6h-18.6zM361.6 341.3l9.3 14.6h-18.6zM360.7 342.4l9.3 14.6h-18.6zM359.8 343.6l9.3 14.6h-18.6zM359 344.7l9.3 14.6h-18.6zM358.1 345.8l9.3 14.6h-18.6zM357.2 347l9.3 14.6h-18.6zM356.4 348.1l9.3 14.6h-18.6zM355.5 349.2l9.3 14.6h-18.6zM354.7 350.3l9.3 14.6h-18.6zM353.8 351.5l9.3 14.6h-18.6zM353 352.6l9.3 14.6h-18.6zM352.2 353.7l9.3 14.6h-18.6zM351.4 354.8l9.3 14.6h-18.6zM350.5 355.9l9.3 14.6h-18.6zM349.7 357l9.3 14.6h-18.6zM348.9 358.1l9.3 14.6h-18.6zM348.1 359.2l9.3 14.6h-18.6zM347.3 360.3l9.3 14.6h-18.6zM346.5 361.4l9.3 14.6h-18.6zM345.7 362.5l9.3 14.6h-18.6zM345 363.6l9.3 14.6h-18.6zM344.2 364.7l9.3 14.6h-18.6zM343.4 365.8l9.3 14.6h-18.6zM342.6 366.8l9.3 14.6h-18.6zM341.9 367.9l9.3 14.6h-18.6zM341.1 369l9.3 14.6h-18.6zM340.4 370.1l9.3 14.6h-18.6zM339.6 371.1l9.3 14.6h-18.6zM338.9 372.2l9.3 14.6h-18.6zM338.1 373.3l9.3 14.6h-18.6zM337.4 374.3l9.3 14.6h-18.6zM336.6 375.4l9.3 14.6h-18.6zM335.9 376.4l9.3 14.6h-18.6zM335.2 377.5l9.3 14.6h-18.6zM334.5 378.5l9.3 14.6h-18.6zM333.8 379.6l9.3 14.6h-18.6zM333 380.6l9.3 14.6h-18.6zM332.3 381.7l9.3 14.6h-18.6zM331.6 382.7l9.3 14.6h-18.6zM330.9 383.7l9.3 14.6h-18.6zM330.2 384.8l9.3 14.6h-18.6zM329.5 385.8l9.3 14.6h-18.6zM328.9 386.8l9.3 14.6h-18.6zM328.2 387.9l9.3 14.6h-18.6zM327.5 388.9l9.3 14.6h-18.6zM326.8 389.9l9.3 14.6h-18.6zM326.1 390.9l9.3 14.6h-18.6zM325.5 391.9l9.3 14.6h-18.6zM324.8 392.9l9.3 14.6h-18.6zM324.2 393.9l9.3 14.6h-18.6zM323.5 394.9l9.3 14.6h-18.6zM322.8 396l9.3 14.6h-18.6zM322.2 396.9l9.3 14.6h-18.6zM321.5 397.9l9.3 14.6h-18.6zM320.9 398.9l9.3 14.6h-18.6zM320.3 399.9l9.3 14.6h-18.6zM319.6 400.9l9.3 14.6h-18.6zM319 401.9l9.3 14.6h-18.6zM318.4 402.9l9.3 14.6h-18.6zM317.7 403.9l9.3 14.6h-18.6zM317.1 404.8l9.3 14.6h-18.6zM316.5 405.8l9.3 14.6h-18.6zM315.9 406.8l9.3 14.6h-18.6zM315.3 407.7l9.3 14.6h-18.6zM314.7 408.7l9.3 14.6h-18.6zM314.1 409.7l9.3 14.6h-18.6zM313.4 410.6l9.3 14.6h-18.6zM312.9 411.6l9.3 14.6h-18.6zM312.3 412.5l9.3 14.6h-18.6zM311.7 413.5l9.3 14.6h-18.6zM311.1 414.4l9.3 14.6h-18.6zM310.5 415.4l9.3 14.6h-18.6zM309.9 416.3l9.3 14.6h-18.6zM309.3 417.2l9.3 14.6h-18.6zM308.7 418.2l9.3 14.6h-18.6zM308.2 419.1l9.3 14.6h-18.6zM307.6 420l9.3 14.6h-18.6zM307 421l9.3 14.6h-18.6zM306.5 421.9l9.3 14.6h-18.6zM305.9 422.8l9.3 14.6h-18.6zM305.3 423.7l9.3 14.6h-18.6zM304.8 424.6l9.3 14.6h-18.6zM304.2 425.6l9.3 14.6h-18.6zM303.7 426.5l9.3 14.6h-18.6zM303.1 427.4l9.3 14.6h-18.6zM302.6 428.3l9.3 14.6h-18.6zM302 429.2l9.3 14.6h-18.6zM301.5 430.1l9.3 14.6h-18.6zM301 431l9.3 14.6h-18.6zM300.4 431.9l9.3 14.6h-18.6zM299.9 432.8l9.3 14.6h-18.6zM299.4 433.6l9.3 14.6h-18.6zM298.8 434.5l9.3 14.6h-18.6zM298.3 435.4l9.3 14.6h-18.6zM297.8 436.3l9.3 14.6h-18.6zM297.3 437.2l9.3 14.6h-18.6zM296.8 438l9.3 14.6h-18.6zM296.2 438.9l9.3 14.6h-18.6zM295.7 439.8l9.3 14.6h-18.6zM295.2 440.6l9.3 14.6h-18.6zM294.7 441.5l9.3 14.6h-18.6zM294.2 442.3l9.3 14.6h-18.6zM293.7 443.2l9.3 14.6h-18.6zM293.2 444l9.3 14.6h-18.6zM292.7 444.8l9.3 14.6h-18.6zM292.2 445.7l9.3 14.6h-18.6zM291.7 446.5l9.3 14.6h-18.6zM291.2 447.3l9.3 14.6h-18.6zM290.8 448.1l9.3 14.6h-18.6zM290.3 448.9l9.3 14.6h-18.6zM289.8 449.7l9.3 14.6h-18.6zM289.3 450.5l9.3 14.6h-18.6zM288.8 451.3l9.3 14.6h-18.6zM288.4 452.1l9.3 14.6h-18.6zM287.9 452.9l9.3 14.6h-18.6zM287.4 453.6l9.3 14.6h-18.6zM286.9 454.4l9.3 14.6h-18.6zM286.5 455.2l9.3 14.6h-18.6zM286 455.9l9.3 14.6h-18.6zM285.5 456.7l9.3 14.6h-18.6zM285.1 457.4l9.3 14.6h-18.6zM284.6 458.2l9.3 14.6h-18.6zM284.2 458.9l9.3 14.6h-18.6zM283.7 459.6l9.3 14.6h-18.6zM283.3 460.3l9.3 14.6h-18.6zM282.8 461l9.3 14.6h-18.6zM282.4 461.7l9.3 14.6h-18.6zM281.9 462.4l9.3 14.6h-18.6zM281.5 463.1l9.3 14.6h-18.6zM281 463.8l9.3 14.6h-18.6zM280.6 464.5l9.3 14.6h-18.6zM280.2 465.2l9.3 14.6h-18.6zM279.7 465.8l9.3 14.6h-18.6zM279.3 466.5l9.3 14.6h-18.6zM278.9 467.1l9.3 14.6h-18.6zM278.4 467.8l9.3 14.6h-18.6zM278 468.4l9.3 14.6h-18.6zM277.6 469l9.3 14.6h-18.6zM277.2 469.6l9.3 14.6h-18.6zM276.7 470.3l9.3 14.6h-18.6zM276.3 470.9l9.3 14.6h-18.6zM275.9 471.5l9.3 14.6h-18.6zM275.5 472.1l9.3 14.6h-18.6zM275.1 472.6l9.3 14.6h-18.6zM274.6 473.2l9.3 14.6h-18.6zM274.2 473.8l9.3 14.6h-18.6zM273.8 474.3l9.3 14.6h-18.6zM273.4 474.9l9.3 14.6h-18.6zM273 475.4l9.3 14.6h-18.6zM272.6 476l9.3 14.6h-18.6zM272.2 476.5l9.3 14.6h-18.6zM271.8 477.1l9.3 14.6h-18.6zM271.4 477.6l9.3 14.6h-18.6zM271 478.1l9.3 14.6h-18.6zM270.6 478.6l9.3 14.6h-18.6zM270.2 479.1l9.3 14.6h-18.6zM269.8 479.6l9.3 14.6h-18.6zM269.4 480.1l9.3 14.6h-18.6zM269.1 480.5l9.3 14.6h-18.6zM268.7 481l9.3 14.6h-18.6zM268.3 481.5l9.3 14.6h-18.6zM267.9 481.9l9.3 14.6h-18.6zM267.5 482.4l9.3 14.6h-18.6zM267.1 482.8l9.3 14.6h-18.6zM266.8 483.2l9.3 14.6h-18.6zM266.4 483.7l9.3 14.6h-18.6zM266 484.1l9.3 14.6h-18.6zM265.6 484.5l9.3 14.6h-18.6zM265.3 484.9l9.3 14.6h-18.6zM264.9 485.3l9.3 14.6h-18.6zM264.5 485.7l9.3 14.6h-18.6zM264.2 486.1l9.3 14.6h-18.6zM263.8 486.4l9.3 14.6h-18.6zM263.4 486.8l9.3 14.6h-18.6zM263.1 487.2l9.3 14.6h-18.6zM262.7 487.5l9.3 14.6h-18.6zM262.3 487.9l9.3 14.6h-18.6zM262 488.2l9.3 14.6h-18.6zM261.6 488.5l9.3 14.6h-18.6zM261.3 488.9l9.3 14.6h-18.6zM260.9 489.2l9.3 14.6h-18.6zM260.6 489.5l9.3 14.6h-18.6zM260.2 489.8l9.3 14.6h-18.6zM259.9 490.1l9.3 14.6h-18.6zM259.5 490.4l9.3 14.6h-18.6zM259.2 490.7l9.3 14.6h-18.6zM258.8 490.9l9.3 14.6h-18.6zM258.5 491.2l9.3 14.6h-18.6zM258.1 491.5l9.3 14.6h-18.6zM257.8 491.7l9.3 14.6h-18.6zM257.5 492l9.3 14.6h-18.6zM542.4 217.6l9.3 14.6h-18.6zM540 213.3l9.3 14.6h-18.6zM537.6 209.3l9.3 14.6h-18.6zM535.2 205.6l9.3 14.6h-18.6zM532.9 201.8l9.3 14.6h-18.6zM530.5 198l9.3 14.6h-18.6zM528.2 196.7l9.3 14.6h-18.6zM526 197.1l9.3 14.6h-18.6zM523.7 197.9l9.3 14.6h-18.6zM521.5 198.9l9.3 14.6h-18.6zM519.3 200.4l9.3 14.6h-18.6zM517.1 202.2l9.3 14.6h-18.6zM514.9 204.3l9.3 14.6h-18.6zM512.8 206.4l9.3 14.6h-18.6zM510.6 208.4l9.3 14.6h-18.6zM508.5 210.2l9.3 14.6h-18.6zM506.4 211.9l9.3 14.6h-18.6zM504.4 213.6l9.3 14.6h-18.6zM502.3 215.3l9.3 14.6h-18.6zM500.3 217l9.3 14.6h-18.6zM582.3 251.9l9.3 14.6h-18.6zM579.4 250.3l9.3 14.6h-18.6zM576.6 248.7l9.3 14.6h-18.6zM573.8 246.9l9.3 14.6h-18.6zM571 245.4l9.3 14.6h-18.6zM568.2 244.1l9.3 14.6h-18.6zM565.5 243l9.3 14.6h-18.6zM562.9 242.2l9.3 14.6h-18.6zM560.2 241.6l9.3 14.6h-18.6zM557.6 241.1l9.3 14.6h-18.6zM555 240.8l9.3 14.6h-18.6zM552.4 240.6l9.3 14.6h-18.6zM549.9 240.4l9.3 14.6h-18.6zM547.4 240.3l9.3 14.6h-18.6zM544.9 240.3l9.3 14.6h-18.6zM933.2 225.1l9.3 14.6h-18.6zM924.8 218.5l9.3 14.6h-18.6zM916.6 208l9.3 14.6h-18.6zM908.5 199.7l9.3 14.6h-18.6zM900.7 195l9.3 14.6h-18.6zM892.9 191.7l9.3 14.6h-18.6zM885.3 188.2l9.3 14.6h-18.6zM877.9 184.1l9.3 14.6h-18.6zM870.6 181l9.3 14.6h-18.6zM863.4 179.9l9.3 14.6h-18.6zM856.3 184.1l9.3 14.6h-18.6zM849.4 191.9l9.3 14.6h-18.6zM842.6 204.9l9.3 14.6h-18.6zM835.9 218.7l9.3 14.6h-18.6zM829.4 228.4l9.3 14.6h-18.6zM822.9 237.4l9.3 14.6h-18.6zM816.6 242.7l9.3 14.6h-18.6zM810.4 246.4l9.3 14.6h-18.6zM804.3 250.3l9.3 14.6h-18.6zM798.2 252.2l9.3 14.6h-18.6zM792.3 252.7l9.3 14.6h-18.6zM786.5 253.7l9.3 14.6h-18.6zM780.8 256l9.3 14.6h-18.6zM775.1 256.6l9.3 14.6h-18.6zM769.6 257l9.3 14.6h-18.6zM764.1 257.1l9.3 14.6h-18.6zM758.8 257.2l9.3 14.6h-18.6zM753.5 257.2l9.3 14.6h-18.6zM748.3 257.1l9.3 14.6h-18.6zM743.2 257l9.3 14.6h-18.6zM738.1 256.9l9.3 14.6h-18.6zM733.2 256.8l9.3 14.6h-18.6zM728.3 256.7l9.3 14.6h-18.6zM723.5 256.6l9.3 14.6h-18.6zM718.7 256.5l9.3 14.6h-18.6zM714.1 256.4l9.3 14.6h-18.6zM709.5 256.3l9.3 14.6h-18.6zM704.9 256.3l9.3 14.6h-18.6zM700.5 256.2l9.3 14.6h-18.6zM696.1 256.2l9.3 14.6h-18.6zM691.7 256.1l9.3 14.6h-18.6zM687.4 256.1l9.3 14.6h-18.6zM683.2 256.1l9.3 14.6h-18.6zM679.1 256.1l9.3 14.6h-18.6zM674.9 256l9.3 14.6h-18.6zM670.9 256l9.3 14.6h-18.6zM666.9 256l9.3 14.6h-18.6zM663 256l9.3 14.6h-18.6zM659.1 255.9l9.3 14.6h-18.6zM655.3 255.9l9.3 14.6h-18.6zM651.5 255.9l9.3 14.6h-18.6zM647.7 255.9l9.3 14.6h-18.6zM644.1 255.9l9.3 14.6h-18.6zM640.4 255.9l9.3 14.6h-18.6zM636.8 255.9l9.3 14.6h-18.6zM633.3 255.9l9.3 14.6h-18.6zM629.8 255.9l9.3 14.6h-18.6zM626.4 256l9.3 14.6h-18.6zM622.9 256.2l9.3 14.6h-18.6zM619.6 256.7l9.3 14.6h-18.6zM616.3 257.3l9.3 14.6h-18.6zM613 257.4l9.3 14.6h-18.6zM609.7 257.2l9.3 14.6h-18.6zM606.5 257.1l9.3 14.6h-18.6zM603.4 257l9.3 14.6h-18.6zM600.3 257.5l9.3 14.6h-18.6zM597.2 258.2l9.3 14.6h-18.6zM594.1 258.9l9.3 14.6h-18.6zM591.1 260.1l9.3 14.6h-18.6zM588.1 260.7l9.3 14.6h-18.6zM585.2 260l9.3 14.6h-18.6z"/>
<path fill="none" stroke="#0f0" stroke-width="4.4" d="M240.5 564.2L330 405"/><path fill="#0f0" d="M226.3 589.6L248.7 566.6L234.3 558.4z"/><path fill="none" stroke="#f00" stroke-width="4.4" d="M282.2 567.9L462 361"/><path fill="#f00" d="M262.4 590.2L289.7 571.9L277.3 560.9z"/><path fill="none" stroke="#0f0" stroke-width="4.4" d="M645.2 564.6L845 212"/><path fill="#0f0" d="M631.2 589.6L653.4 567L639 558.8z"/><path fill="none" stroke="#f00" stroke-width="4.4" d="M788.7 561L885.3 123.6"/><path fill="#f00" d="M782.2 589.1L797.2 561L781 557.2z"/><path fill="none" stroke="#000" stroke-width="4.4" d="M837.2 560.9L877.8 238.5"/><path fill="#000" d="M833.5 589.1L845.7 560L829.3 557.8z"/>
<g font-family="Liberation Serif" fill="#000">
<text transform="translate(143 590.9) scale(1.08 1)" font-size="30.4" font-weight="bold" text-anchor="end">0.0</text>
<text transform="translate(142.6 496.7) scale(1.08 1)" font-size="30.4" font-weight="bold" text-anchor="end">5.0x10<tspan font-size="19.5" dy="-11.2">2</tspan></text>
<text transform="translate(142.6 402.5) scale(1.08 1)" font-size="30.4" font-weight="bold" text-anchor="end">1.0x10<tspan font-size="19.5" dy="-11.2">3</tspan></text>
<text transform="translate(142.6 308.3) scale(1.08 1)" font-size="30.4" font-weight="bold" text-anchor="end">1.5x10<tspan font-size="19.5" dy="-11.2">3</tspan></text>
<text transform="translate(142.6 214.2) scale(1.08 1)" font-size="30.4" font-weight="bold" text-anchor="end">2.0x10<tspan font-size="19.5" dy="-11.2">3</tspan></text>
<text transform="translate(142.6 120) scale(1.08 1)" font-size="30.4" font-weight="bold" text-anchor="end">2.5x10<tspan font-size="19.5" dy="-11.2">3</tspan></text>
<text transform="translate(142.6 25.8) scale(1.08 1)" font-size="30.4" font-weight="bold" text-anchor="end">3.0x10<tspan font-size="19.5" dy="-11.2">3</tspan></text>
<text transform="translate(224.8 616.3) scale(1.117 1)" font-size="30.5" font-weight="bold" text-anchor="middle">1</text>
<text transform="translate(361.1 616.3) scale(1.117 1)" font-size="30.5" font-weight="bold" text-anchor="middle">2</text>
<text transform="translate(497.4 616.3) scale(1.117 1)" font-size="30.5" font-weight="bold" text-anchor="middle">3</text>
<text transform="translate(633.7 616.3) scale(1.117 1)" font-size="30.5" font-weight="bold" text-anchor="middle">4</text>
<text transform="translate(770 616.3) scale(1.117 1)" font-size="30.5" font-weight="bold" text-anchor="middle">5</text>
<text transform="translate(906.3 616.3) scale(1.117 1)" font-size="30.5" font-weight="bold" text-anchor="middle">6</text>
<text transform="translate(460.2 664.8) scale(1.05 1)" font-size="31.3" font-weight="bold" text-anchor="start">Energy (eV)</text>
<text transform="translate(29.3 498.9) scale(1.124 1) rotate(-90)" font-size="29.55" font-weight="bold">Absorbtion Coefficient, <tspan font-weight="normal" font-size="33" fill-opacity="0">&#945;</tspan> (cm<tspan font-size="20" dy="-11">-1</tspan><tspan dy="11">)</tspan></text><text transform="translate(29.2 196.8) scale(1.05 1) rotate(-90) scale(1.30 1)" font-size="33" font-weight="normal">&#945;</text>

<rect x="384.9" y="41.9" width="13.7" height="12.5" fill="#000"/>
<ellipse cx="530.2" cy="48.1" rx="7.7" ry="7.2" fill="#f00"/>
<path d="M664 38.6L673.3 53.3H654.7z" fill="#0f0"/>
<text transform="translate(432 57.4) scale(1.04 1)" font-size="28.8" font-weight="normal" text-anchor="start">CMC</text><text transform="translate(571.5 57.4) scale(1.0 1)" font-size="28.8" font-weight="normal" text-anchor="start">CS-1</text><text transform="translate(704.3 57.4) scale(1.04 1)" font-size="28.8" font-weight="normal" text-anchor="start">CS-2</text>
</g>
</svg>
</body></html>
